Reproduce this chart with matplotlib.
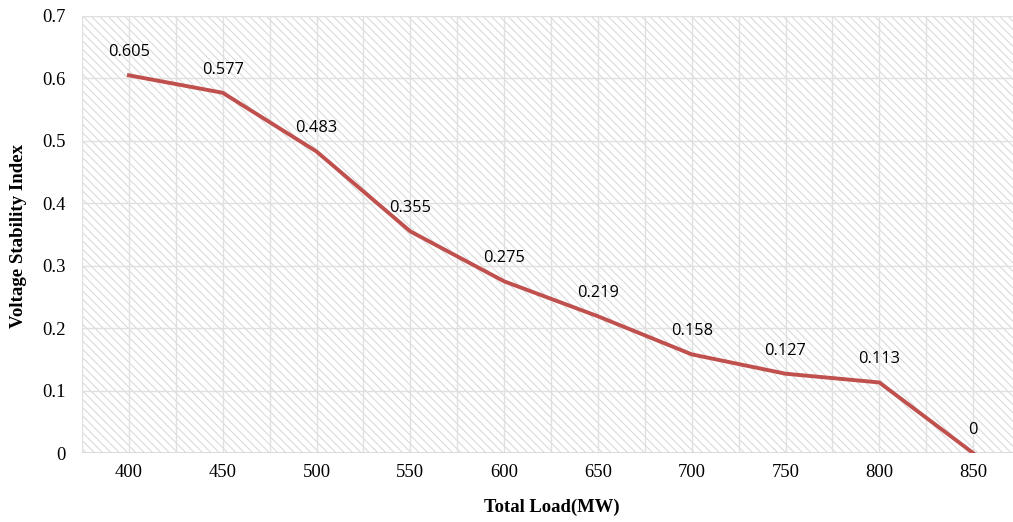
import matplotlib
matplotlib.use("Agg")
import matplotlib.pyplot as plt
from matplotlib.patches import Rectangle

loads = ["400", "450", "500", "550", "600", "650", "700", "750", "800", "850"]
vsi = [0.605, 0.577, 0.483, 0.355, 0.275, 0.219, 0.158, 0.127, 0.113, 0.0]
vsi_labels = ["0.605", "0.577", "0.483", "0.355", "0.275", "0.219", "0.158", "0.127", "0.113", "0"]

matplotlib.rcParams['hatch.linewidth'] = 0.7

W, H = 1013, 522
fig = plt.figure(figsize=(W / 100, H / 100), dpi=100)
left, right, top, bottom = 82, 1020, 16, 453
ax = fig.add_axes([left / W, 1 - bottom / H, (right - left) / W, (bottom - top) / H])

x = list(range(len(loads)))
ax.set_xlim(-0.5, len(loads) - 0.5)
ax.set_ylim(0, 0.7)

# hatched background
bg = Rectangle((0, 0), 1, 1, transform=ax.transAxes, facecolor="white",
               edgecolor="#d6d6d6", hatch="\\\\\\\\", linewidth=0, zorder=0)
ax.add_patch(bg)

# grid
for gx in [i * 0.5 - 0.5 for i in range(2 * len(loads) + 1)]:
    ax.axvline(gx, color="#e0e0e0", lw=1.0, zorder=1)
for gy in [0.1 * i for i in range(1, 8)]:
    ax.axhline(gy, color="#e0e0e0", lw=1.0, zorder=1)
ax.axhline(0, color="#d9d9d9", lw=1.3, zorder=1)

ax.plot(x, vsi, color="#C0504D", lw=2.8, zorder=3, solid_joinstyle="miter")

for xi, yi, lab in zip(x, vsi, vsi_labels):
    ax.annotate(lab, (xi, yi), xytext=(0, 13.7), textcoords="offset points",
                ha="center", va="baseline", fontsize=11.8, family="Open Sans", color="black")

for s in ax.spines.values():
    s.set_visible(False)

ax.set_xticks(x)
ax.set_xticklabels(loads, family="Liberation Serif", fontsize=13.4)
ax.set_yticks([0.1 * i for i in range(8)])
ax.set_yticklabels(["0", "0.1", "0.2", "0.3", "0.4", "0.5", "0.6", "0.7"],
                   family="Liberation Serif", fontsize=13.4)
ax.tick_params(length=0)
ax.tick_params(axis="x", pad=8)
ax.tick_params(axis="y", pad=12)

fig.text(552 / W, 1 - 507 / H, "Total Load(MW)", ha="center", va="center",
         family="Liberation Serif", fontweight="bold", fontsize=13.4)
fig.text(19 / W, 1 - 236 / H, "Voltage Stability Index", ha="center", va="center",
         rotation=90, family="Liberation Serif", fontweight="bold", fontsize=13.6)

fig.savefig("out.png", dpi=100)
